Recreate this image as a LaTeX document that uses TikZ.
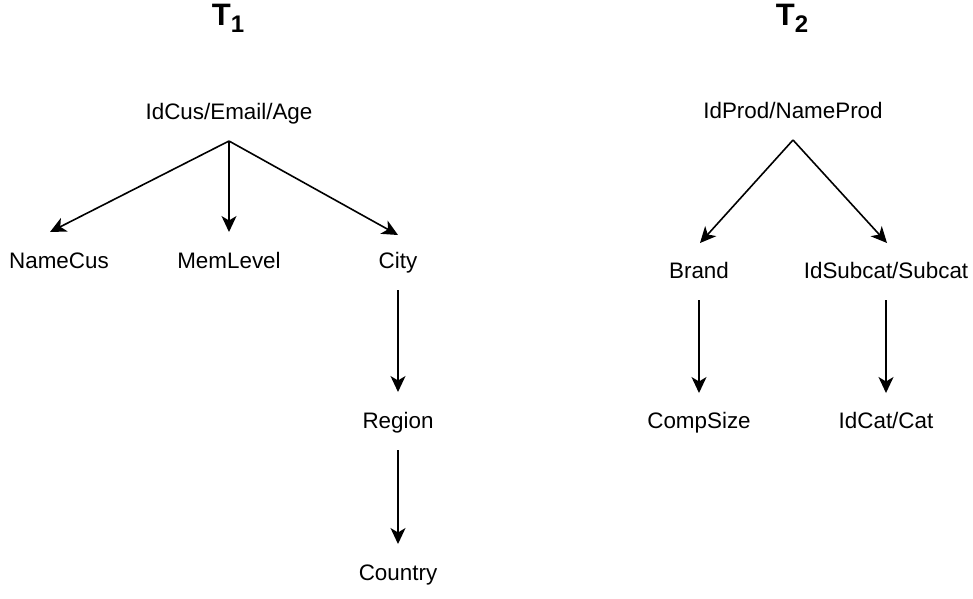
\documentclass[tikz,border=0pt]{standalone}
\usepackage{fontspec}
\setmainfont{Liberation Sans}
\usetikzlibrary{arrows.meta}
\begin{document}
\begin{tikzpicture}[x=1pt,y=-1pt,
  lbl/.style={inner sep=0pt, outer sep=0pt, anchor=base,
    font=\fontsize{22.4}{25}\selectfont, text height=16pt, text depth=4.7pt},
  ttl/.style={inner sep=0pt, anchor=base, font=\fontsize{31}{33}\selectfont\bfseries},
  link/.style={draw=black, line width=1.6pt,
    -{Stealth[length=16pt,width=15pt,inset=4.5pt]}}]
  \useasboundingbox (0,0) rectangle (973,598);

  % titles
  \node[ttl] (t1) at (228,25) {T\raisebox{-7pt}{\fontsize{24}{25}\selectfont 1}};
  \node[ttl] (t2) at (792,25) {T\raisebox{-7pt}{\fontsize{24}{25}\selectfont 2}};

  % customer hierarchy
  \node[lbl] (idcus)  at (229,119) {IdCus/Email/Age};
  \node[lbl] (namecus) at (59,268) {NameCus};
  \node[lbl] (memlvl) at (229,268) {MemLevel};
  \node[lbl] (city)   at (398,268) {City};
  \node[lbl] (region) at (398,428) {Region};
  \node[lbl] (country) at (398,580) {Country};

  \coordinate (r1) at ([yshift=-17.3pt]idcus.south);
  \draw[link] (r1) -- ([shift={(-9pt,20pt)}]namecus.north);
  \draw[link] (r1) -- ([yshift=20pt]memlvl.north);
  \draw[link] (r1) -- ([yshift=17pt]city.north);
  \draw[link, shorten <=17.3pt, shorten >=20pt] (city.south) -- (region.north);
  \draw[link, shorten <=17.3pt, shorten >=20pt] (region.south) -- (country.north);

  % product hierarchy
  \node[lbl] (idprod) at (793,118) {IdProd/NameProd};
  \node[lbl] (brand)  at (699,278) {Brand};
  \node[lbl] (subcat) at (886,278) {IdSubcat/Subcat};
  \node[lbl] (comp)   at (699,428) {CompSize};
  \node[lbl] (idcat)  at (886,428) {IdCat/Cat};

  \coordinate (r2) at ([yshift=-17.3pt]idprod.south);
  \draw[link] (r2) -- ([shift={(1pt,19pt)}]brand.north);
  \draw[link] (r2) -- ([shift={(1pt,19pt)}]subcat.north);
  \draw[link, shorten <=17.3pt, shorten >=19pt] (brand.south) -- (comp.north);
  \draw[link, shorten <=17.3pt, shorten >=19pt] (subcat.south) -- (idcat.north);
\end{tikzpicture}
\end{document}
